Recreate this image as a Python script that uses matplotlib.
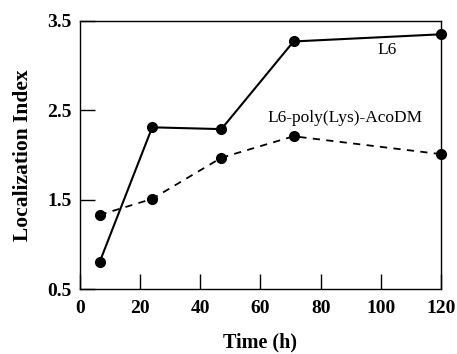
import matplotlib.pyplot as plt

# Values
time_h = [6.5, 24, 47, 71, 120]
l6 = [0.80, 2.31, 2.29, 3.27, 3.35]
l6_poly = [1.33, 1.51, 1.97, 2.21, 2.01]

xticks = [0, 20, 40, 60, 80, 100, 120]
yticks = [0.5, 1.5, 2.5, 3.5]

plt.rcParams['font.family'] = ['Liberation Serif', 'DejaVu Serif']

fig = plt.figure(figsize=(4.57, 3.54), dpi=100)
ax = fig.add_axes([0.175, 0.183, 0.79, 0.758])

ax.plot(time_h, l6, color='black', linestyle='-', linewidth=1.5,
        marker='o', markersize=7, clip_on=False, zorder=3)
ax.plot(time_h, l6_poly, color='black', linestyle=(0, (4, 3.5)), linewidth=1.3,
        marker='o', markersize=7, clip_on=False, zorder=3)

ax.text(102, 3.18, 'L6', fontsize=12.5, ha='center', va='center')
ax.text(88, 2.41, 'L6-poly(Lys)-AcoDM', fontsize=12.5, ha='center', va='center')

ax.set_xlim(0, 120)
ax.set_ylim(0.5, 3.5)
ax.set_xticks(xticks)
ax.set_yticks(yticks)
ax.set_xticklabels([str(t) for t in xticks], fontsize=14, fontweight='bold')
ax.set_yticklabels([str(t) for t in yticks], fontsize=14, fontweight='bold')
ax.tick_params(axis='x', direction='in', length=11, width=1, pad=8)
ax.tick_params(axis='y', direction='in', length=11, width=1, pad=6)

for s in ax.spines.values():
    s.set_linewidth(1)

ax.set_xlabel('Time (h)', fontsize=14.5, fontweight='bold', labelpad=11)
ax.set_ylabel('Localization Index', fontsize=15.5, fontweight='bold', labelpad=10)

fig.savefig('out.png', dpi=100)
